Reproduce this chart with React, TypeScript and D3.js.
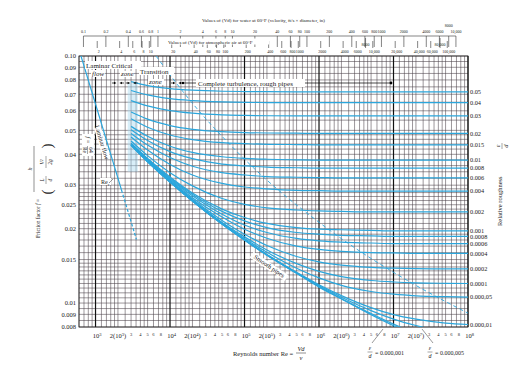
import React from "react";
import * as d3 from "d3";

const reynolds = [3000, 5000, 1e4, 2e4, 5e4, 1e5, 2e5, 5e5, 1e6, 2e6, 5e6, 1e7, 2e7, 5e7, 1e8];

const f_005 = [0.0787, 0.0759, 0.0738, 0.0727, 0.072, 0.0718, 0.0717, 0.0716, 0.0716, 0.0716, 0.0716, 0.0716, 0.0716, 0.0716, 0.0716];
const f_004 = [0.0725, 0.0696, 0.0672, 0.066, 0.0652, 0.0649, 0.0648, 0.0647, 0.0647, 0.0647, 0.0647, 0.0647, 0.0647, 0.0647, 0.0647];
const f_003 = [0.066, 0.0628, 0.0601, 0.0587, 0.0578, 0.0575, 0.0573, 0.0572, 0.0572, 0.0572, 0.0572, 0.0572, 0.0572, 0.0572, 0.0572];
const f_002 = [0.0593, 0.0555, 0.0523, 0.0505, 0.0494, 0.049, 0.0488, 0.0487, 0.0486, 0.0486, 0.0486, 0.0486, 0.0486, 0.0486, 0.0486];
const f_0015 = [0.0557, 0.0515, 0.0479, 0.0459, 0.0446, 0.0442, 0.0439, 0.0438, 0.0437, 0.0437, 0.0437, 0.0437, 0.0437, 0.0437, 0.0437];
const f_001 = [0.0519, 0.0473, 0.0431, 0.0407, 0.0391, 0.0385, 0.0382, 0.038, 0.0379, 0.0379, 0.0379, 0.0379, 0.0379, 0.0379, 0.0379];
const f_0008 = [0.0503, 0.0455, 0.041, 0.0384, 0.0365, 0.0359, 0.0355, 0.0353, 0.0352, 0.0352, 0.0352, 0.0352, 0.0352, 0.0352, 0.0352];
const f_0006 = [0.0486, 0.0436, 0.0388, 0.0358, 0.0337, 0.033, 0.0325, 0.0323, 0.0322, 0.0321, 0.0321, 0.0321, 0.0321, 0.0321, 0.0321];
const f_0004 = [0.047, 0.0416, 0.0364, 0.033, 0.0305, 0.0295, 0.029, 0.0286, 0.0285, 0.0284, 0.0284, 0.0284, 0.0284, 0.0284, 0.0284];
const f_0002 = [0.0453, 0.0395, 0.0337, 0.0298, 0.0265, 0.0251, 0.0243, 0.0238, 0.0236, 0.0235, 0.0234, 0.0234, 0.0234, 0.0234, 0.0234];
const f_0001 = [0.0444, 0.0385, 0.0324, 0.0279, 0.024, 0.0222, 0.021, 0.0202, 0.0199, 0.0198, 0.0197, 0.0196, 0.0196, 0.0196, 0.0196];
const f_00008 = [0.0442, 0.0383, 0.0321, 0.0276, 0.0235, 0.0215, 0.0202, 0.0193, 0.019, 0.0188, 0.0187, 0.0186, 0.0186, 0.0186, 0.0186];
const f_00006 = [0.0441, 0.0381, 0.0318, 0.0272, 0.0229, 0.0207, 0.0193, 0.01826, 0.01785, 0.01763, 0.0175, 0.0174, 0.0174, 0.0174, 0.0174];
const f_00004 = [0.0439, 0.0378, 0.0315, 0.0267, 0.0223, 0.0199, 0.0183, 0.017, 0.01649, 0.0162, 0.016, 0.01596, 0.0159, 0.0159, 0.0159];
const f_00002 = [0.0437, 0.0376, 0.0312, 0.0263, 0.0216, 0.019, 0.0171, 0.01544, 0.01469, 0.01424, 0.01395, 0.01384, 0.01378, 0.01375, 0.01374];
const f_00001 = [0.0436, 0.0375, 0.031, 0.0261, 0.0212, 0.01853, 0.01641, 0.01444, 0.01344, 0.0128, 0.01234, 0.01217, 0.01207, 0.01202, 0.012];
const f_000005 = [0.0436, 0.0374, 0.031, 0.026, 0.0211, 0.01825, 0.01605, 0.01384, 0.01265, 0.0118, 0.01114, 0.01086, 0.0107, 0.01061, 0.01057];
const f_000001 = [0.0436, 0.0374, 0.0309, 0.0259, 0.0209, 0.01806, 0.01573, 0.01331, 0.01187, 0.01072, 0.00958, 0.00898, 0.00861, 0.0083, 0.00819];
const f_0000005 = [0.0436, 0.0374, 0.0309, 0.0259, 0.0209, 0.01802, 0.01568, 0.01324, 0.01177, 0.01056, 0.00932, 0.00861, 0.00811, 0.00765, 0.00747];
const f_0000001 = [0.0436, 0.0374, 0.0309, 0.0259, 0.0209, 0.018, 0.0156, 0.0132, 0.01168, 0.01041, 0.00907, 0.00822, 0.00753, 0.00682, 0.00643];
const f_smooth = [0.0436, 0.0374, 0.0309, 0.0259, 0.0209, 0.018, 0.0156, 0.0132, 0.0116, 0.0104, 0.00898, 0.0081, 0.00734, 0.00649, 0.00594];

const curves: { label: string | null; f: number[] }[] = [
  { label: "0.05", f: f_005 },
  { label: "0.04", f: f_004 },
  { label: "0.03", f: f_003 },
  { label: "0.02", f: f_002 },
  { label: "0.015", f: f_0015 },
  { label: "0.01", f: f_001 },
  { label: "0.008", f: f_0008 },
  { label: "0.006", f: f_0006 },
  { label: "0.004", f: f_0004 },
  { label: "0.002", f: f_0002 },
  { label: "0.001", f: f_0001 },
  { label: "0.0008", f: f_00008 },
  { label: "0.0006", f: f_00006 },
  { label: "0.0004", f: f_00004 },
  { label: "0.0002", f: f_00002 },
  { label: "0.0001", f: f_00001 },
  { label: "0.000,05", f: f_000005 },
  { label: "0.000,01", f: f_000001 },
  { label: null, f: f_0000005 },
  { label: null, f: f_0000001 },
  { label: null, f: f_smooth },
];

// laminar f = 64/Re, solid then dashed past Re_c
const laminarSolid: [number, number][] = [[580, 0.11], [2230, 0.0287]];
const laminarDashed: [number, number][] = [[2230, 0.0287], [3540, 0.0181]];
// boundary of complete turbulence (dashed)
const roughBoundary: [number, number][] = [[6500, 0.1], [15000, 0.0716], [103000, 0.0379], [1.43e6, 0.0196], [1.83e7, 0.01197], [1e8, 0.0091]];

const yTicks = [0.1, 0.09, 0.08, 0.07, 0.06, 0.05, 0.04, 0.03, 0.025, 0.02, 0.015, 0.01, 0.009, 0.008];
const yTickText = ["0.10", "0.09", "0.08", "0.07", "0.06", "0.05", "0.04", "0.03", "0.025", "0.02", "0.015", "0.01", "0.009", "0.008"];
const gridF = [
  0.008, 0.0085, 0.009, 0.0095, 0.01, 0.0105, 0.011, 0.0115, 0.012, 0.0125, 0.013, 0.0135, 0.014, 0.0145,
  0.015, 0.016, 0.017, 0.018, 0.019, 0.02, 0.021, 0.022, 0.023, 0.024, 0.025, 0.026, 0.027, 0.028, 0.029,
  0.03, 0.032, 0.034, 0.036, 0.038, 0.04, 0.042, 0.044, 0.046, 0.048, 0.05, 0.055, 0.06, 0.065, 0.07,
  0.075, 0.08, 0.085, 0.09, 0.095, 0.1,
];
const gridMults = [1, 1.2, 1.4, 1.6, 1.8, 2, 2.5, 3, 3.5, 4, 4.5, 5, 6, 7, 8, 9];
const decades = [3, 4, 5, 6, 7, 8];
const smallDigits = [3, 4, 5, 6, 8];

const waterVd = [0.1, 0.2, 0.4, 0.6, 0.8, 1, 2, 4, 6, 8, 10, 20, 40, 60, 80, 100, 200, 400, 600, 800, 1000, 2000, 4000, 6000, 8000, 10000];
const waterText = ["0.1", "0.2", "0.4", "0.6", "0.8", "1", "2", "4", "6", "8", "10", "20", "40", "60", "80", "100", "200", "400", "600", "800", "1000", "2000", "4000", "6000", "8000", "10,000"];
const airVd = [2, 4, 6, 8, 10, 20, 40, 60, 80, 100, 200, 400, 600, 800, 1000, 2000, 4000, 6000, 8000, 10000, 20000, 40000, 60000, 80000, 100000];
const airText = ["2", "4", "6", "8", "10", "20", "40", "60", "80", "100", "200", "400", "600", "800", "1000", "2000", "4000", "6000", "8000", "10,000", "20,000", "40,000", "60,000", "80,000", "100,000"];
const RE_PER_WATER_VD = 6887;
const RE_PER_AIR_VD = 527;

const BLUE = "#2ba6dc";
const FONT = "'Liberation Serif', 'Times New Roman', serif";

const Arrow = ({ x0, x1, y }: { x0: number; x1: number; y: number }) => {
  const dir = x1 > x0 ? 1 : -1;
  return (
    <g>
      <line x1={x0} x2={x1 - dir * 2} y1={y} y2={y} stroke="#000" strokeWidth={0.7} />
      <path d={`M${x1},${y} L${x1 - dir * 2.5},${y - 1.3} L${x1 - dir * 2.5},${y + 1.3} Z`} fill="#000" />
    </g>
  );
};

export default function App() {
  const left = 79, right = 468, top = 56, bottom = 327;
  const x = d3.scaleLog().domain([600, 1e8]).range([left, right]);
  const y = d3.scaleLog().domain([0.008, 0.1]).range([bottom, top]);
  const xWater = d3.scaleLog().domain([600 / RE_PER_WATER_VD, 1e8 / RE_PER_WATER_VD]).range([left, right]);
  const xAir = d3.scaleLog().domain([600 / RE_PER_AIR_VD, 1e8 / RE_PER_AIR_VD]).range([left, right]);

  const line = d3
    .line<[number, number]>()
    .x((d) => x(d[0]))
    .y((d) => y(d[1]))
    .curve(d3.curveMonotoneX);

  const vGrid: { v: number; major: boolean }[] = [];
  [2, 3, 4, 5, 6, 7].forEach((n) =>
    gridMults.forEach((m) => {
      const v = m * Math.pow(10, n);
      if (v >= 600 && v <= 1e8) vGrid.push({ v, major: m === 1 });
    })
  );
  vGrid.push({ v: 1e8, major: true });

  const arrowY = 83;
  const arrowPairs = [2000, 3050, 12400];

  return (
    <svg width={517} height={371} style={{ position: "absolute", left: 0, top: 0, background: "#fff" }} fontFamily={FONT}>
      <defs>
        <clipPath id="plot">
          <rect x={left} y={top} width={right - left} height={bottom - top} />
        </clipPath>
      </defs>
      <rect width={517} height={371} fill="#fff" />

      {/* top: water scale */}
      <text x={202} y={22} fontSize={5} fill="#222">
        Values of (Vd) for water at 60°F (velocity, ft/s × diameter, in)
      </text>
      <line x1={xWater(0.1)} x2={xWater(10000)} y1={36} y2={36} stroke="#333" strokeWidth={0.6} />
      {waterVd.map((v, i) => (
        <g key={"w" + i}>
          <line x1={xWater(v)} x2={xWater(v)} y1={36} y2={47} stroke="#333" strokeWidth={0.6} />
          <text x={xWater(v)} y={waterText[i] === "8000" ? 27 : 33} fontSize={4} textAnchor="middle" fill="#222">
            {waterText[i]}
          </text>
        </g>
      ))}
      {/* top: air scale */}
      {airVd.map((v, i) => {
        const raised = airText[i] === "8000" || airText[i] === "80,000";
        return (
          <g key={"a" + i}>
            <line x1={xAir(v)} x2={xAir(v)} y1={raised ? 38 : 41} y2={48} stroke="#333" strokeWidth={0.6} />
            <text x={xAir(v) + (raised ? 0 : 1.5)} y={raised ? 46 : 53} fontSize={4} textAnchor="middle" fill="#222">
              {airText[i]}
            </text>
          </g>
        );
      })}
      <rect x={166} y={38.5} width={103} height={6} fill="#fff" />
      <text x={168} y={43.5} fontSize={5} fill="#222">
        Values of (Vd) for atmospheric air at 60°F
      </text>

      {/* grid */}
      {gridF.map((f) => (
        <line key={"h" + f} x1={left} x2={right} y1={y(f)} y2={y(f)} stroke="#4a4048" strokeWidth={0.55} />
      ))}
      {vGrid.map((g) => (
        <line
          key={"v" + g.v}
          x1={x(g.v)}
          x2={x(g.v)}
          y1={top}
          y2={bottom}
          stroke={g.major ? "#111" : "#4a4048"}
          strokeWidth={g.major ? 1.2 : 0.55}
        />
      ))}
      <rect x={left} y={top} width={right - left} height={bottom - top} fill="none" stroke="#222" strokeWidth={0.8} />

      {/* critical zone shading */}
      <rect x={x(2700)} y={y(0.078)} width={x(3700) - x(2700)} height={y(0.034) - y(0.078)} fill="#a9d9f0" opacity={0.45} />

      {/* curves */}
      <g clipPath="url(#plot)" fill="none">
        {curves.map((c, i) => (
          <path key={"c" + i} d={line(reynolds.map((r, j) => [r, c.f[j]]))!} stroke={BLUE} strokeWidth={1.2} />
        ))}
        <path d={line(laminarSolid)!} stroke={BLUE} strokeWidth={1.2} />
        <path d={line(laminarDashed)!} stroke={BLUE} strokeWidth={1.2} strokeDasharray="3,2" />
        <path d={line(roughBoundary)!} stroke={BLUE} strokeWidth={0.9} strokeDasharray="4,3" />
      </g>

      {/* left axis */}
      {yTicks.map((f, i) => (
        <text key={"yt" + f} x={76} y={y(f)} dy="0.35em" fontSize={6.5} textAnchor="end" fill="#222">
          {yTickText[i]}
        </text>
      ))}
      <g transform="translate(38,238) rotate(-90)" fill="#222">
        <text x={0} y={2} fontSize={5.5}>
          Friction factor <tspan fontStyle="italic">f</tspan> =
        </text>
        <text x={69} y={-6} fontSize={6} fontStyle="italic" textAnchor="middle">h</text>
        <line x1={46} x2={92} y1={-4} y2={-4} stroke="#222" strokeWidth={0.5} />
        <text x={46} y={14} fontSize={15} textAnchor="middle">(</text>
        <text x={92} y={14} fontSize={15} textAnchor="middle">)</text>
        <text x={58} y={6} fontSize={5.5} fontStyle="italic" textAnchor="middle">L</text>
        <line x1={54} x2={62} y1={8} y2={8} stroke="#222" strokeWidth={0.4} />
        <text x={58} y={13.5} fontSize={5.5} fontStyle="italic" textAnchor="middle">d</text>
        <text x={76} y={6} fontSize={5.5} fontStyle="italic" textAnchor="middle">V²</text>
        <line x1={70} x2={82} y1={8} y2={8} stroke="#222" strokeWidth={0.4} />
        <text x={76} y={13.5} fontSize={5.5} fontStyle="italic" textAnchor="middle">2g</text>
      </g>

      {/* right axis */}
      {curves.filter((c) => c.label).map((c) => (
        <text key={"rl" + c.label} x={right + 2} y={y(c.f[c.f.length - 1])} dy="0.35em" fontSize={6.3} fill="#222">
          {c.label}
        </text>
      ))}
      <g transform="translate(502,226) rotate(-90)" fill="#222">
        <text x={0} y={0} fontSize={6.5}>Relative roughness</text>
        <text x={80} y={-2} fontSize={6.5} fontStyle="italic" textAnchor="middle">ε</text>
        <line x1={77} x2={83} y1={0} y2={0} stroke="#222" strokeWidth={0.4} />
        <text x={80} y={6} fontSize={6.5} fontStyle="italic" textAnchor="middle">d</text>
      </g>

      {/* bottom axis */}
      {decades.map((n) => (
        <g key={"d" + n} fill="#222">
          <text x={x(Math.pow(10, n)) + 1.5} y={338} fontSize={6.5} textAnchor="middle">
            10<tspan dy={-2.5} fontSize={4.5}>{n}</tspan>
          </text>
          {n < 8 && (
            <text x={x(2 * Math.pow(10, n))} y={338} fontSize={6.5} textAnchor="middle">
              2(10<tspan dy={-2.5} fontSize={4.5}>{n}</tspan>
              <tspan dy={2.5}>)</tspan>
            </text>
          )}
          {n < 8 &&
            smallDigits.map((m) => (
              <text key={m} x={x(m * Math.pow(10, n)) + (m === 8 ? -2 : 0)} y={336} fontSize={4.5} textAnchor="middle">
                {m}
              </text>
            ))}
        </g>
      ))}
      <g fill="#222">
        <text x={233} y={356} fontSize={6.5}>Reynolds number Re =</text>
        <text x={301} y={351} fontSize={6.5} fontStyle="italic" textAnchor="middle">Vd</text>
        <line x1={296} x2={306} y1={353} y2={353} stroke="#222" strokeWidth={0.5} />
        <text x={301} y={360} fontSize={6.5} fontStyle="italic" textAnchor="middle">ν</text>
      </g>

      {/* epsilon labels under chart */}
      {[
        { x: 370, text: "= 0.000,001", lx1: 372, ly1: 343, lx2: 383, ly2: 329 },
        { x: 430, text: "= 0.000,005", lx1: 433, ly1: 343, lx2: 422, ly2: 329 },
      ].map((e) => (
        <g key={e.text} fill="#222">
          <line x1={e.lx1} y1={e.ly1} x2={e.lx2} y2={e.ly2} stroke="#333" strokeWidth={0.5} />
          <text x={e.x} y={350} fontSize={6} fontStyle="italic" textAnchor="middle">ε</text>
          <line x1={e.x - 2.5} x2={e.x + 2.5} y1={352} y2={352} stroke="#222" strokeWidth={0.4} />
          <text x={e.x} y={358} fontSize={6} fontStyle="italic" textAnchor="middle">d</text>
          <text x={e.x + 5} y={355} fontSize={6}>{e.text}</text>
        </g>
      ))}

      {/* zone annotations */}
      <g fill="#222" fontSize={7}>
        <rect x={85} y={61} width={56} height={8} fill="#fff" />
        <text x={86} y={68}>Laminar Critical</text>
        <rect x={91} y={70} width={14} height={7} fill="#fff" />
        <text x={92} y={76} fontStyle="italic">flow</text>
        <rect x={120} y={71} width={14} height={6} fill="#fff" />
        <text x={121} y={76} fontStyle="italic">zone</text>
        <rect x={139} y={67} width={35} height={8} fill="#fff" />
        <text x={140} y={74}>Transition</text>
        <rect x={148} y={79} width={16} height={6} fill="#fff" />
        <text x={149} y={84} fontStyle="italic">zone</text>
      </g>
      {arrowPairs.map((r) => (
        <g key={"ap" + r}>
          <Arrow x0={x(r) - 6} x1={x(r) - 1.5} y={arrowY} />
          <Arrow x0={x(r) + 6} x1={x(r) + 1.5} y={arrowY} />
        </g>
      ))}
      <line x1={x(12400) + 6} x2={391} y1={arrowY} y2={arrowY} stroke="#000" strokeWidth={0.7} />
      <circle cx={x(12400) + 6} cy={arrowY} r={1.2} fill="#000" />
      <circle cx={391} cy={arrowY} r={1.4} fill="#000" />
      <rect x={196} y={79} width={109} height={8} fill="#fff" />
      <text x={198} y={85.5} fontSize={7} fill="#222">Complete turbulence, rough pipes</text>

      {/* laminar annotations */}
      <g transform="translate(100,143) rotate(73)">
        <rect x={-16} y={-5.5} width={32} height={7} fill="#fff" />
        <text x={0} y={0} fontSize={6.5} textAnchor="middle" fill="#222">Laminar flow</text>
      </g>
      <g transform="translate(88,146) rotate(90)" fill="#222">
        <rect x={-12} y={-6} width={22} height={12} fill="#fff" />
        <text x={-6} y={2} fontSize={6} textAnchor="middle" fontStyle="italic">f =</text>
        <text x={4} y={-1} fontSize={5.5} textAnchor="middle">64</text>
        <line x1={0} x2={8} y1={0.5} y2={0.5} stroke="#222" strokeWidth={0.4} />
        <text x={4} y={5.5} fontSize={5.5} textAnchor="middle">Re</text>
      </g>
      <rect x={100} y={178} width={11} height={7} fill="#fff" />
      <text x={101} y={184} fontSize={6} fill="#222">Re<tspan dy={1.5} fontSize={4}>c</tspan></text>
      <line x1={109} y1={183} x2={113} y2={179} stroke="#333" strokeWidth={0.5} />

      <g transform="translate(268,268) rotate(34)">
        <rect x={-21} y={-5.5} width={42} height={7} fill="#fff" />
        <text x={0} y={0} fontSize={6.5} textAnchor="middle" fill="#222">Smooth pipes</text>
      </g>
    </svg>
  );
}
